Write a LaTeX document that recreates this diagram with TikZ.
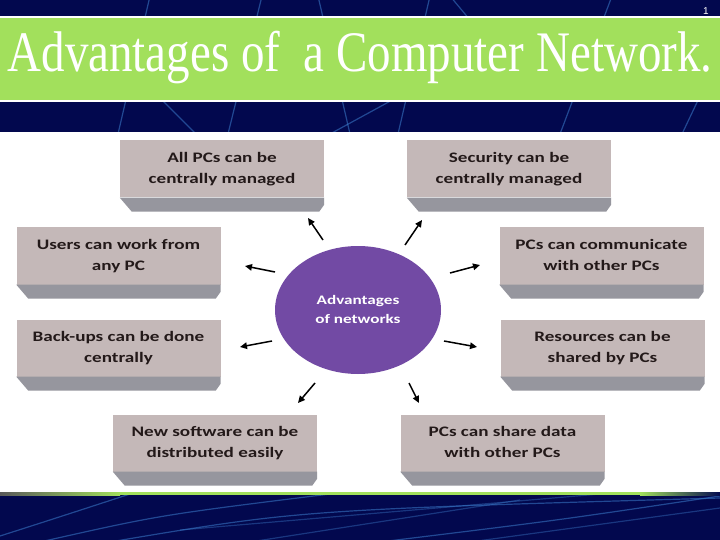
\documentclass[tikz,border=0pt]{standalone}
\usepackage{fontspec}
\setmainfont{Liberation Serif}
\newfontfamily\cardfont{Carlito}
\newfontfamily\numfont{Liberation Sans}
\usetikzlibrary{arrows.meta,positioning,shapes.geometric,calc}
\definecolor{navy}{RGB}{2,8,78}
\definecolor{streak}{RGB}{60,125,205}
\definecolor{lime}{RGB}{162,224,92}
\definecolor{cardface}{RGB}{196,184,184}
\definecolor{cardband}{RGB}{150,150,158}
\definecolor{cardtext}{RGB}{35,25,25}
\definecolor{hubfill}{RGB}{114,74,164}
\newcommand\stretched[1]{\scalebox{1.32}[1]{\begin{tabular}{@{}c@{}}#1\end{tabular}}}

\begin{document}
\begin{tikzpicture}[x=1pt,y=-1pt,
  card/.style={fill=cardface,minimum width=204pt,minimum height=57pt,inner sep=0pt,
               text=cardtext,font=\cardfont\bfseries\fontsize{14.5}{21}\selectfont},
  band/.style={fill=cardband},
  hub/.style={ellipse,fill=hubfill,minimum width=166pt,minimum height=128pt,inner sep=0pt,
              text=white,font=\cardfont\bfseries\fontsize{13}{19}\selectfont},
  ar/.style={-{Triangle[length=7pt,width=6.5pt]},line width=1.5pt,draw=black},
  streakline/.style={draw=streak,line width=1.2pt,opacity=0.55}]
\useasboundingbox (0,0) rectangle (720,540);

% backdrop
\fill[navy] (0,0) rectangle (720,540);
\draw[streakline] (118,134) -- (150,-4);
\draw[streakline] (160,98) -- (196,134);
\draw[streakline] (228,134) -- (262,-4);
\draw[streakline] (318,-4) -- (350,134);
\draw[streakline] (330,134) -- (396,98);
\draw[streakline] (398,134) -- (430,-4);
\draw[streakline] (450,-4) -- (470,20);
\draw[streakline] (560,134) -- (612,-4);
\draw[streakline] (682,134) -- (700,96);
\draw[streakline] (0,536) .. controls (50,520) .. (130,494);
\draw[streakline] (40,542) .. controls (160,515) .. (330,494);
\draw[streakline] (110,542) .. controls (300,510) .. (720,498);
\draw[streakline,opacity=0.4] (180,530) -- (600,494);
\draw[streakline] (380,542) .. controls (560,520) .. (720,496);
\draw[streakline,opacity=0.4] (470,542) -- (720,508);
\draw[streakline,opacity=0.4] (250,542) -- (520,500);

% white panel and green rule
\fill[white] (0,132) rectangle (720,492);
\shade[left color=gray!70!black,right color=lime] (0,492) rectangle (120,495);
\fill[lime] (120,492) rectangle (640,495);
\shade[left color=lime,right color=navy] (640,492) rectangle (720,495);

% title bar
\fill[lime] (0,17) rectangle (720,101);
\draw[white,line width=1.5pt] (0,17) -- (720,17) (0,101) -- (720,101);
\node[anchor=base,text=white,inner sep=0pt,font=\fontsize{47}{50}\selectfont] (title)
  at (360,72) {\scalebox{1}[1.22]{Advantages of\ \ a Computer Network.}};
\node[text=white,inner sep=0pt,font=\numfont\fontsize{10}{12}\selectfont] (pgno) at (706,11) {1};

% cards
\node[card] (b1) at (222,169) {\stretched{All PCs can be\\centrally managed}};
\node[card] (b2) at (509,169) {\stretched{Security can be\\centrally managed}};
\node[card] (b3) at (118.5,256) {\stretched{Users can work from\\any PC}};
\node[card] (b4) at (601.5,256) {\stretched{PCs can communicate\\with other PCs}};
\node[card] (b5) at (118.5,348) {\stretched{Back-ups can be done\\centrally}};
\node[card] (b6) at (602.5,348) {\stretched{Resources can be\\shared by PCs}};
\node[card] (b7) at (215,443) {\stretched{New software can be\\distributed easily}};
\node[card] (b8) at (502.5,443) {\stretched{PCs can share data\\with other PCs}};
\foreach \b in {b1,b2,b3,b4,b5,b6,b7,b8}
  \fill[band] (\b.south west) -- (\b.south east) -- ++(0,7) -- ++(-5,7)
    -- ([shift={(12,14)}]\b.south west) -- cycle;

% centre and arrows
\node[hub] (hub) at (358,310) {\stretched{Advantages\\of networks}};
\foreach \i/\sx/\sy/\tx/\ty in {1/323/240/308/218, 2/405/245/422/220,
    3/275/272/245/266, 4/450/273/480/265, 5/272/341/240/347,
    6/444/341/477/347, 7/315/383/298/403, 8/409/383/419/403}{
  \coordinate (s\i) at (\sx,\sy);
  \coordinate (t\i) at (\tx,\ty);
  \draw[ar] (s\i) -- (t\i);
}
\end{tikzpicture}
\end{document}
